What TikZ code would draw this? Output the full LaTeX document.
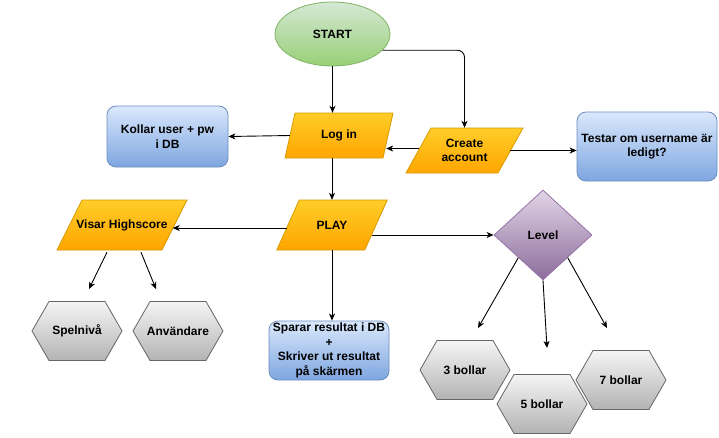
\documentclass[tikz,border=0pt]{standalone}
\usepackage{fontspec}
\setmainfont{Liberation Sans}
\usetikzlibrary{shapes.geometric,arrows.meta,calc}
\definecolor{gA}{HTML}{D5E8D4}\definecolor{gB}{HTML}{97D077}\definecolor{gS}{HTML}{82B366}
\definecolor{oA}{HTML}{FFCD28}\definecolor{oB}{HTML}{FFA500}\definecolor{oS}{HTML}{D79B00}
\definecolor{bA}{HTML}{DAE8FC}\definecolor{bB}{HTML}{7EA6E0}\definecolor{bS}{HTML}{6C8EBF}
\definecolor{pA}{HTML}{E1D5E7}\definecolor{pB}{HTML}{8C6C9C}\definecolor{pS}{HTML}{9673A6}
\definecolor{hA}{HTML}{F5F5F5}\definecolor{hB}{HTML}{B3B3B3}\definecolor{hS}{HTML}{666666}
\tikzset{
  txt/.style={font=\bfseries\fontsize{12}{14.5}\selectfont, align=center, text=black},
  greenell/.style={txt, ellipse, draw=gS, top color=gA, bottom color=gB, line width=0.8pt, inner sep=0pt, minimum width=115pt, minimum height=64pt},
  parafill/.style={draw=oS, top color=oA, bottom color=oB, line width=0.8pt},
  bluebox/.style={txt, rectangle, rounded corners=9pt, draw=bS, top color=bA, bottom color=bB, line width=0.8pt, inner sep=0pt},
  purpled/.style={txt, diamond, draw=pS, top color=pA, bottom color=pB, line width=0.8pt, inner sep=0pt, minimum width=98pt, minimum height=90pt, aspect=1.09},
  hexfill/.style={draw=hS, top color=hA, bottom color=hB, line width=0.8pt},
  arr/.style={draw=black, line width=0.9pt, -{Stealth[length=7pt,width=6pt,inset=2pt]}},
}
\newcommand\hexa[4]{%
  \path[hexfill] (#2-45,#3) -- (#2-28,#3-29.5) -- (#2+28,#3-29.5) -- (#2+45,#3) -- (#2+28,#3+29.5) -- (#2-28,#3+29.5) -- cycle;
  \node[txt] (#1) at (#2,#3) {#4};}
% name, cx, cy, width, height, skew, text
\newcommand\paral[7]{%
  \path[parafill] (#2-#4/2+#6/2,#3-#5/2) -- (#2+#4/2+#6/2,#3-#5/2) -- (#2+#4/2-#6/2,#3+#5/2) -- (#2-#4/2-#6/2,#3+#5/2) -- cycle;
  \node[txt, minimum width=#4 pt, minimum height=#5 pt, inner sep=0pt] (#1) at (#2,#3) {#7};}
\begin{document}
\begin{tikzpicture}[x=1pt,y=-1pt]
\fill[white] (0,0) rectangle (719,437);
\useasboundingbox (0,0) rectangle (719,437);

\node[greenell] (start) at (332.5,34) {START};
\node[bluebox, minimum width=121pt, minimum height=61pt] (kollar) at (167.5,136.5) {Kollar user + pw\\ i DB};
\paral{login}{339}{135.5}{98}{45}{10}{Log in}
\paral{create}{464.5}{150.5}{92}{45}{25}{Create\\ account}
\node[bluebox, minimum width=140pt, minimum height=69pt] (testar) at (647,146.5) {Testar om username är\\ ledigt?};
\paral{visar}{122}{225}{105}{50}{25}{Visar Highscore}
\paral{play}{332}{225}{88}{50}{22.5}{PLAY}
\node[purpled] (level) at (543,235) {Level};
\node[bluebox, minimum width=120pt, minimum height=59pt] (sparar) at (329,350.5) {Sparar resultat i DB\\ +\\ Skriver ut resultat\\ på skärmen};

\hexa{spel}{77}{331}{Spelnivå}
\hexa{anv}{178}{331}{Användare}
\hexa{b3}{465}{370}{3 bollar}
\hexa{b5}{542}{404}{5 bollar}
\hexa{b7}{621}{380}{7 bollar}

\coordinate (e1) at (89,289);
\coordinate (e2) at (156,289);
\coordinate (e3) at (478,328);
\coordinate (e4) at (547,348);
\coordinate (e5) at (607,328);

\draw[arr] (start.south) -- (start.south |- login.north);
\draw[arr, rounded corners=7pt] (start.-18) -| (create.north);
\draw[arr] (login.west) -- (kollar.east);
\draw[arr] ($(create.west)+(1,-2)$) -- ($(login.east)+(-2,13)$);
\draw[arr] ($(create.east)+(-0.5,0)$) -- (create.east -| testar.west);
\draw[arr] (play.north |- login.south) -- (play.north);
\draw[arr] ($(play.west)+(-1,3)$) -- ($(visar.east)+(-2,3)$);
\draw[arr] (play.south) -- (play.south |- sparar.north);
\draw[arr] ($(play.east)+(-4,10)$) -- (level.west);
\draw[arr] ($(visar.south)+(-15,2)$) -- (e1);
\draw[arr] ($(visar.south)+(19,2)$) -- (e2);
\draw[arr] (level.south west) -- (e3);
\draw[arr] (level.south) -- (e4);
\draw[arr] (level.south east) -- (e5);
\end{tikzpicture}
\end{document}
